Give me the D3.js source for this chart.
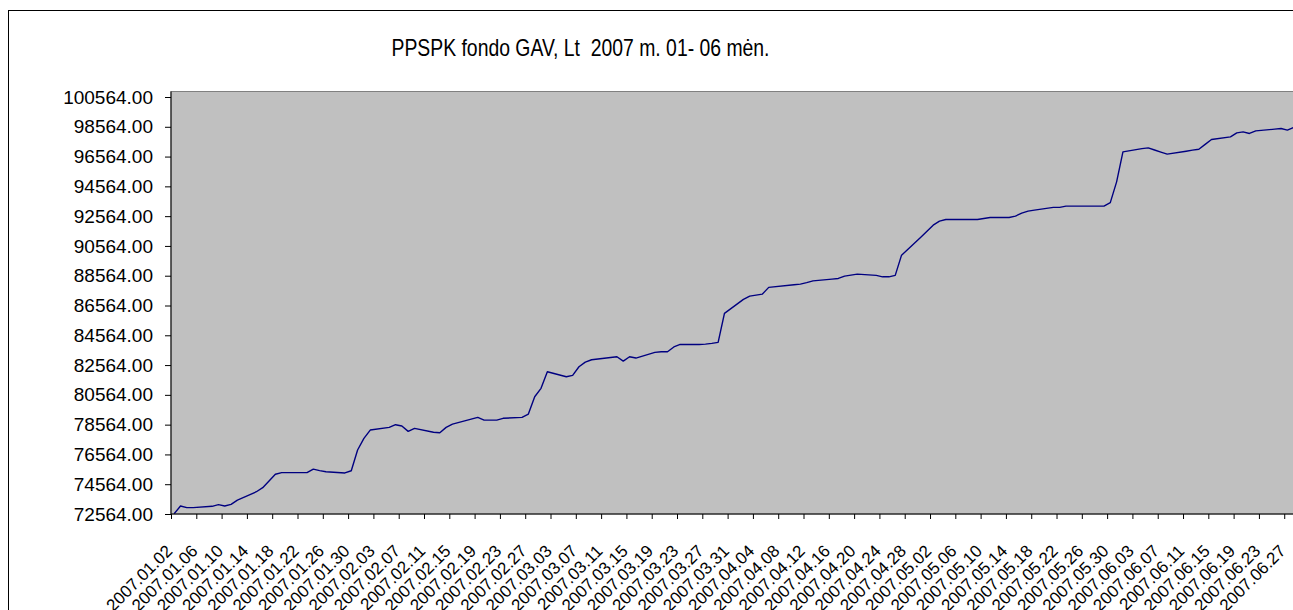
<!DOCTYPE html>
<html>
<head>
<meta charset="utf-8">
<script src="https://cdn.jsdelivr.net/npm/d3@7"></script>
<style>
  html, body { margin: 0; padding: 0; background: #ffffff; overflow: hidden; }
  svg { display: block; font-family: "Liberation Sans", Arial, sans-serif; }
</style>
</head>
<body>
<script>
// ---------------- DATA ----------------
const titleText = "PPSPK fondo GAV, Lt  2007 m. 01- 06 mėn.";
const year = 2007;
const dates = [
  "01.02","01.03","01.04","01.05","01.08","01.09","01.10","01.11","01.12","01.15",
  "01.16","01.17","01.18","01.19","01.22","01.23","01.24","01.25","01.26","01.29",
  "01.30","01.31","02.01","02.02","02.05","02.06","02.07","02.08","02.09","02.12",
  "02.13","02.14","02.15","02.19","02.20","02.21","02.22","02.23","02.26","02.27",
  "02.28","03.01","03.02","03.05","03.06","03.07","03.08","03.09","03.12","03.13",
  "03.14","03.15","03.16","03.19","03.20","03.21","03.22","03.23","03.26","03.27",
  "03.28","03.29","03.30","04.02","04.03","04.04","04.05","04.06","04.10","04.11",
  "04.12","04.13","04.16","04.17","04.18","04.19","04.20","04.23","04.24","04.25",
  "04.26","04.27","04.30","05.02","05.03","05.04","05.07","05.08","05.09","05.10",
  "05.11","05.14","05.15","05.16","05.17","05.18","05.21","05.22","05.23","05.24",
  "05.25","05.28","05.29","05.30","05.31","06.01","06.04","06.05","06.06","06.07",
  "06.08","06.11","06.12","06.13","06.14","06.15","06.18","06.19","06.20","06.21",
  "06.22","06.25","06.26","06.27","06.28","06.29"
];
const gav = [
  72580,73100,72990,72990,73080,73190,73100,73215,73500,74060,
  74330,74780,75230,75340,75340,75340,75580,75480,75400,75320,
  75470,76860,77645,78200,78380,78560,78470,78110,78315,78050,
  78020,78380,78600,79050,78870,78870,78870,78990,79050,79275,
  80435,81000,82115,81780,81870,82450,82765,82920,83070,83120,
  82830,83120,83035,83415,83455,83455,83780,83950,83950,83970,
  84020,84090,86035,86975,87195,87260,87330,87780,87955,88000,
  88100,88220,88335,88380,88535,88600,88670,88585,88490,88490,
  88585,89945,91135,91960,92230,92340,92340,92340,92340,92410,
  92475,92475,92565,92765,92900,92965,93150,93150,93235,93235,
  93235,93235,93235,93470,94865,96880,97095,97150,97005,96860,
  96725,96925,96995,97060,97385,97710,97885,98155,98220,98115,
  98290,98405,98450,98340,98525,98600
];
const yTicks = [72564,74564,76564,78564,80564,82564,84564,86564,88564,90564,
                92564,94564,96564,98564,100564];
const xTickLabels = [
  "2007.01.02","2007.01.06","2007.01.10","2007.01.14","2007.01.18","2007.01.22","2007.01.26","2007.01.30",
  "2007.02.03","2007.02.07","2007.02.11","2007.02.15","2007.02.19","2007.02.23","2007.02.27",
  "2007.03.03","2007.03.07","2007.03.11","2007.03.15","2007.03.19","2007.03.23","2007.03.27","2007.03.31",
  "2007.04.04","2007.04.08","2007.04.12","2007.04.16","2007.04.20","2007.04.24","2007.04.28",
  "2007.05.02","2007.05.06","2007.05.10","2007.05.14","2007.05.18","2007.05.22","2007.05.26","2007.05.30",
  "2007.06.03","2007.06.07","2007.06.11","2007.06.15","2007.06.19","2007.06.23","2007.06.27"
];
const axisStart = "2007.01.02";
const axisEnd = "2007.06.30";

// ---------------- LAYOUT ----------------
const W = 1293, H = 610;
const plot = { left: 171, top: 91.5, bottom: 514, right: 1303.2 };

const parseDay = d3.timeParse("%Y.%m.%d");
const parseNoon = d3.timeParse("%Y.%m.%d %H");
const series = dates.map((d, i) => ({ date: parseNoon(year + "." + d + " 12"), v: gav[i] }));
const tickDates = xTickLabels.map(s => parseDay(s));

const x = d3.scaleTime()
  .domain([parseDay(axisStart), parseDay(axisEnd)])
  .range([plot.left, plot.right]);
const y = d3.scaleLinear()
  .domain([72564, 100564])
  .range([plot.bottom, 97]);

const svg = d3.select("body").append("svg")
  .attr("width", W).attr("height", H);

// outer chart frame
svg.append("rect")
  .attr("x", 8.5).attr("y", 10.5)
  .attr("width", 1400).attr("height", 800)
  .attr("fill", "#ffffff").attr("stroke", "#000000").attr("stroke-width", 1);

// title
svg.append("text")
  .attr("x", 391.5).attr("y", 56)
  .attr("textLength", 378).attr("lengthAdjust", "spacingAndGlyphs")
  .attr("font-size", 24).attr("fill", "#000")
  .style("white-space", "pre")
  .attr("xml:space", "preserve")
  .text(titleText);

// plot area
svg.append("rect")
  .attr("x", plot.left).attr("y", plot.top)
  .attr("width", plot.right - plot.left).attr("height", plot.bottom - plot.top)
  .attr("fill", "#c0c0c0").attr("stroke", "#808080").attr("stroke-width", 1);

svg.append("defs").append("clipPath").attr("id", "clip")
  .append("rect")
  .attr("x", plot.left).attr("y", plot.top)
  .attr("width", plot.right - plot.left).attr("height", plot.bottom - plot.top);

// line
const line = d3.line().x(d => x(d.date)).y(d => y(d.v));
svg.append("path")
  .datum(series)
  .attr("clip-path", "url(#clip)")
  .attr("fill", "none")
  .attr("stroke", "#000080")
  .attr("stroke-width", 1.4)
  .attr("stroke-linejoin", "round")
  .attr("d", line);

// y axis
const yAxis = svg.append("g")
  .attr("transform", `translate(${plot.left},0)`)
  .call(d3.axisLeft(y).tickValues(yTicks).tickFormat(d => d.toFixed(2))
    .tickSize(6).tickSizeOuter(0).tickPadding(12));
yAxis.select(".domain").remove();
yAxis.selectAll(".tick line").attr("stroke", "#000");
yAxis.selectAll("text").attr("font-size", 19).attr("fill", "#000")
  .attr("font-family", '"Liberation Sans", Arial, sans-serif');
svg.append("line")
  .attr("x1", plot.left).attr("x2", plot.left)
  .attr("y1", plot.top).attr("y2", plot.bottom)
  .attr("stroke", "#000").attr("stroke-width", 1);

// x axis
const xAxis = svg.append("g")
  .attr("transform", `translate(0,${plot.bottom})`)
  .call(d3.axisBottom(x).tickValues(tickDates)
    .tickFormat((d, i) => xTickLabels[i])
    .tickSize(5).tickSizeOuter(0));
xAxis.select(".domain").remove();
xAxis.selectAll(".tick line").attr("stroke", "#000");
xAxis.selectAll("text")
  .attr("font-size", 17).attr("fill", "#000")
  .attr("font-family", '"Liberation Sans", Arial, sans-serif')
  .attr("x", 0).attr("y", 0).attr("dy", 0)
  .attr("text-anchor", "end")
  .attr("transform", "translate(2,38) rotate(-45)");
svg.append("line")
  .attr("x1", plot.left).attr("x2", plot.right)
  .attr("y1", plot.bottom).attr("y2", plot.bottom)
  .attr("stroke", "#000").attr("stroke-width", 1);
</script>
</body>
</html>
